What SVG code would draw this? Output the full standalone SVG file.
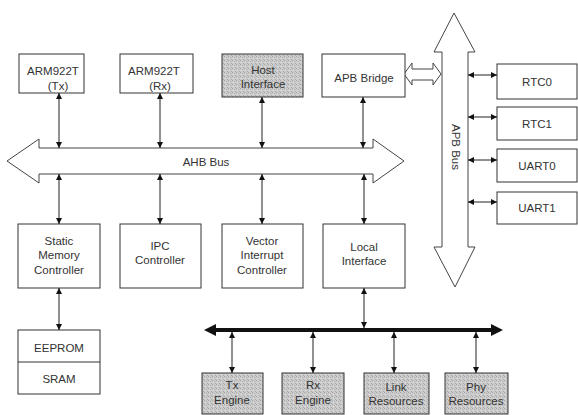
<svg xmlns="http://www.w3.org/2000/svg" width="578" height="415" viewBox="0 0 578 415">
<defs>
<style>
.box{fill:#fff;stroke:#333;stroke-width:1}
.gray{fill:url(#stip);stroke:#333;stroke-width:1}
.bus{fill:#fff;stroke:#444;stroke-width:1}
.t{font-family:"Liberation Sans",Arial,sans-serif;font-size:11.5px;fill:#333;text-anchor:middle}
.c{stroke:#222;stroke-width:1;fill:none;marker-start:url(#ah);marker-end:url(#ah)}
.thick{stroke:#111;stroke-width:4;fill:none;marker-start:url(#bh);marker-end:url(#bh)}
</style>
<pattern id="stip" width="4" height="4" patternUnits="userSpaceOnUse">
<rect width="4" height="4" fill="#cbcbcb"/>
<rect x="0" y="0" width="1" height="1" fill="#a4a4a4"/>
<rect x="2" y="1" width="1" height="1" fill="#b0b0b0"/>
<rect x="1" y="2" width="1" height="1" fill="#dedede"/>
<rect x="3" y="3" width="1" height="1" fill="#a8a8a8"/>
</pattern>
<marker id="ah" viewBox="0 0 10 10" refX="10" refY="5" markerWidth="7" markerHeight="6" markerUnits="userSpaceOnUse" orient="auto-start-reverse">
<path d="M0,0 L10,5 L0,10 z" fill="#111"/>
</marker>
<marker id="bh" viewBox="0 0 10 10" refX="0" refY="5" markerWidth="14" markerHeight="12" markerUnits="userSpaceOnUse" orient="auto-start-reverse">
<path d="M0,0 L10,5 L0,10 z" fill="#111"/>
</marker>
</defs>

<g id="ahb-bus">
<polygon class="bus" points="7,161 39,139 39,148 373,148 373,139 404,161 373,183 373,174 39,174 39,183"/>
<text class="t" x="206" y="166">AHB Bus</text>
</g>
<g id="apb-bus">
<polygon class="bus" points="454,13 475,52 468,52 468,247 475,247 455,287 434,247 442,247 442,52 434,52"/>
<text class="t" transform="translate(452,147) rotate(90)">APB Bus</text>
</g>
<g id="bridge-link">
<polygon class="bus" points="404,74 412,63 412,69 433,69 433,63 441,74 433,85 433,80 412,80 412,85"/>
</g>

<g id="arm-tx">
<rect class="box" x="19" y="54" width="65" height="39"/>
<text class="t" x="53" y="75">ARM922T</text>
<text class="t" x="58" y="90">(Tx)</text>
</g>
<g id="arm-rx">
<rect class="box" x="120" y="54" width="73" height="39"/>
<text class="t" x="154" y="75">ARM922T</text>
<text class="t" x="160" y="90">(Rx)</text>
</g>
<g id="host-interface">
<rect class="gray" x="222" y="54" width="81" height="43"/>
<text class="t" x="263" y="74">Host</text>
<text class="t" x="263" y="88">Interface</text>
</g>
<g id="apb-bridge">
<rect class="box" x="322" y="54" width="83" height="43"/>
<text class="t" x="364" y="82">APB Bridge</text>
</g>
<g id="rtc0">
<rect class="box" x="497" y="64" width="80" height="35"/>
<text class="t" x="537" y="86">RTC0</text>
</g>
<g id="rtc1">
<rect class="box" x="497" y="107" width="80" height="33"/>
<text class="t" x="537" y="128">RTC1</text>
</g>
<g id="uart0">
<rect class="box" x="497" y="149" width="80" height="33"/>
<text class="t" x="537" y="170">UART0</text>
</g>
<g id="uart1">
<rect class="box" x="497" y="192" width="80" height="32"/>
<text class="t" x="537" y="212">UART1</text>
</g>
<g id="static-memory-controller">
<rect class="box" x="18" y="224" width="82" height="64"/>
<text class="t" x="59" y="245">Static</text>
<text class="t" x="59" y="259">Memory</text>
<text class="t" x="59" y="274">Controller</text>
</g>
<g id="ipc-controller">
<rect class="box" x="120" y="224" width="81" height="64"/>
<text class="t" x="160" y="250">IPC</text>
<text class="t" x="160" y="264">Controller</text>
</g>
<g id="vector-interrupt-controller">
<rect class="box" x="222" y="224" width="81" height="64"/>
<text class="t" x="262" y="245">Vector</text>
<text class="t" x="262" y="259">Interrupt</text>
<text class="t" x="262" y="274">Controller</text>
</g>
<g id="local-interface">
<rect class="box" x="323" y="224" width="82" height="64"/>
<text class="t" x="364" y="251">Local</text>
<text class="t" x="364" y="265">Interface</text>
</g>
<g id="eeprom-sram">
<rect class="box" x="18" y="330" width="82" height="64"/>
<line x1="18" y1="362" x2="100" y2="362" stroke="#333" stroke-width="1"/>
<text class="t" x="59" y="352">EEPROM</text>
<text class="t" x="59" y="383">SRAM</text>
</g>
<g id="tx-engine">
<rect class="gray" x="202" y="373" width="61" height="41"/>
<text class="t" x="232" y="389">Tx</text>
<text class="t" x="232" y="404">Engine</text>
</g>
<g id="rx-engine">
<rect class="gray" x="282" y="373" width="62" height="41"/>
<text class="t" x="313" y="389">Rx</text>
<text class="t" x="313" y="404">Engine</text>
</g>
<g id="link-resources">
<rect class="gray" x="364" y="373" width="65" height="41"/>
<text class="t" x="396" y="391">Link</text>
<text class="t" x="396" y="405">Resources</text>
</g>
<g id="phy-resources">
<rect class="gray" x="445" y="373" width="63" height="41"/>
<text class="t" x="476" y="391">Phy</text>
<text class="t" x="476" y="405">Resources</text>
</g>

<g id="connectors">
<line class="c" x1="59" y1="93" x2="59" y2="148"/>
<line class="c" x1="160" y1="93" x2="160" y2="148"/>
<line class="c" x1="262" y1="97" x2="262" y2="148"/>
<line class="c" x1="363" y1="97" x2="363" y2="148"/>
<line class="c" x1="59" y1="174" x2="59" y2="224"/>
<line class="c" x1="160" y1="174" x2="160" y2="224"/>
<line class="c" x1="262" y1="174" x2="262" y2="224"/>
<line class="c" x1="364" y1="174" x2="364" y2="224"/>
<line class="c" x1="59" y1="288" x2="59" y2="330"/>
<line class="c" x1="468" y1="75" x2="497" y2="75"/>
<line class="c" x1="468" y1="117" x2="497" y2="117"/>
<line class="c" x1="468" y1="160" x2="497" y2="160"/>
<line class="c" x1="468" y1="202" x2="497" y2="202"/>
<line class="thick" x1="216" y1="330" x2="491" y2="330"/>
<line class="c" x1="364" y1="288" x2="364" y2="328"/>
<line class="c" x1="232" y1="332" x2="232" y2="373"/>
<line class="c" x1="313" y1="332" x2="313" y2="373"/>
<line class="c" x1="394" y1="332" x2="394" y2="373"/>
<line class="c" x1="476" y1="332" x2="476" y2="373"/>
</g>
</svg>
